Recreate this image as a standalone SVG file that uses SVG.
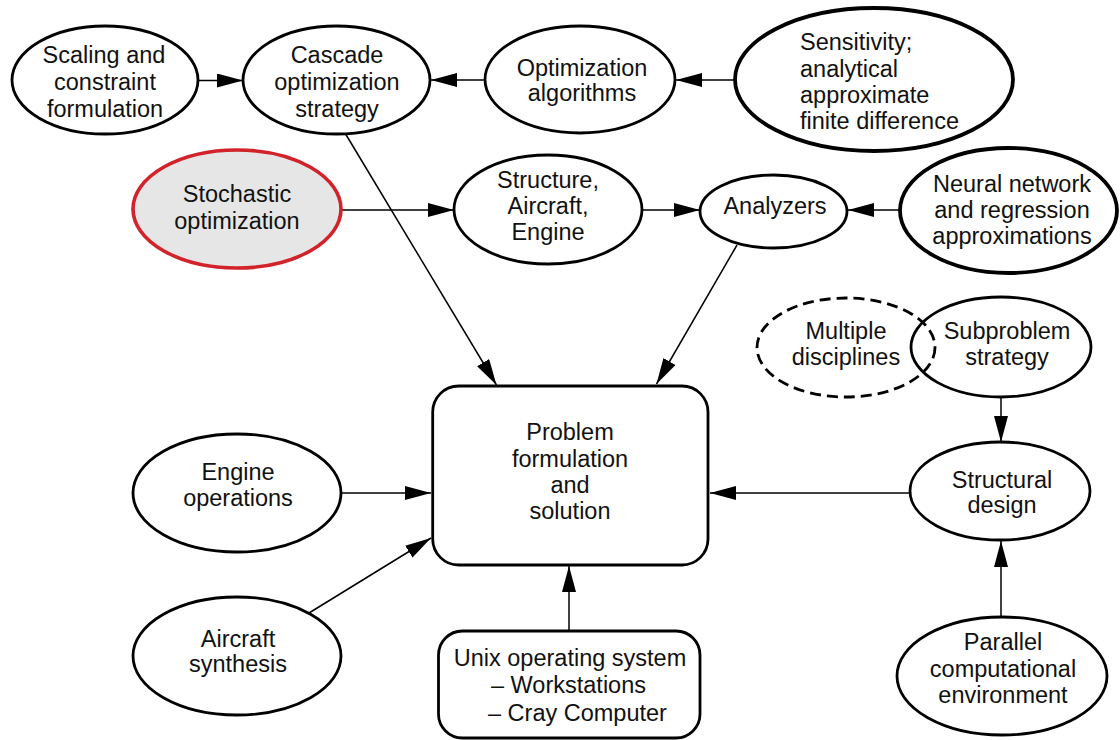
<svg xmlns="http://www.w3.org/2000/svg" width="1120" height="740" viewBox="0 0 1120 740">
<style>
  .n { fill: #fff; stroke: #000; stroke-width: 2.8; }
  .thick { stroke-width: 3.8; }
  .dash { fill: none; stroke-dasharray: 11 6; }
  .open { fill: none; }
  .red { fill: #e6e6e6; stroke: #d2232a; stroke-width: 3.6; }
  .c { stroke: #000; stroke-width: 1.5; fill: none; marker-end: url(#ah); }
  text { font-family: "Liberation Sans", Arial, Helvetica, sans-serif; font-size: 23.5px; fill: #111; text-anchor: middle; }
  text.l { text-anchor: start; }
</style>
<defs>
  <marker id="ah" viewBox="0 0 26 14" refX="26" refY="7" markerWidth="26" markerHeight="14" markerUnits="userSpaceOnUse" orient="auto">
    <path d="M0,0 L26,7 L0,14 z" fill="#000"/>
  </marker>
</defs>
<rect width="1120" height="740" fill="#fff"/>

<g id="connectors">
  <line class="c" x1="198" y1="80.5" x2="243" y2="80.5"/>
  <line class="c" x1="485" y1="80" x2="431" y2="80"/>
  <line class="c" x1="735" y1="80" x2="676" y2="80"/>
  <line class="c" x1="341" y1="210" x2="454" y2="210"/>
  <line class="c" x1="642" y1="210" x2="700" y2="210"/>
  <line class="c" x1="900" y1="210" x2="848" y2="210"/>
  <line class="c" x1="345" y1="133" x2="496.5" y2="385"/>
  <line class="c" x1="737" y1="245" x2="656.5" y2="384"/>
  <line class="c" x1="341" y1="493" x2="431" y2="493"/>
  <line class="c" x1="309" y1="613" x2="431" y2="538"/>
  <line class="c" x1="569" y1="631" x2="569" y2="566"/>
  <line class="c" x1="910" y1="493" x2="710" y2="493"/>
  <line class="c" x1="1001" y1="397" x2="1001" y2="442"/>
  <line class="c" x1="1001" y1="617" x2="1001" y2="541"/>
</g>

<g id="scaling">
  <ellipse class="n" cx="105" cy="80" rx="93" ry="54"/>
  <text x="104" y="63">Scaling and</text>
  <text x="105" y="90">constraint</text>
  <text x="105" y="117">formulation</text>
</g>
<g id="cascade">
  <ellipse class="n" cx="336.5" cy="80" rx="93.5" ry="54"/>
  <text x="337" y="63">Cascade</text>
  <text x="337" y="90">optimization</text>
  <text x="337" y="117">strategy</text>
</g>
<g id="optalg">
  <ellipse class="n" cx="580" cy="79.5" rx="95" ry="53.5"/>
  <text x="582" y="76">Optimization</text>
  <text x="582" y="101">algorithms</text>
</g>
<g id="sensitivity">
  <ellipse class="n thick" cx="874" cy="79.5" rx="139" ry="71.5"/>
  <text class="l" x="800" y="50">Sensitivity;</text>
  <text class="l" x="800" y="77">analytical</text>
  <text class="l" x="800" y="103">approximate</text>
  <text class="l" x="800" y="129">finite difference</text>
</g>
<g id="stochastic">
  <ellipse class="red" cx="237" cy="209" rx="104" ry="59"/>
  <text x="237" y="202">Stochastic</text>
  <text x="237" y="229">optimization</text>
</g>
<g id="structure">
  <ellipse class="n" cx="548" cy="209.5" rx="94" ry="54.5"/>
  <text x="548" y="188">Structure,</text>
  <text x="548" y="214">Aircraft,</text>
  <text x="548" y="240">Engine</text>
</g>
<g id="analyzers">
  <ellipse class="n" cx="773.5" cy="211.5" rx="73.5" ry="36.5"/>
  <text x="775" y="214">Analyzers</text>
</g>
<g id="neural">
  <ellipse class="n thick" cx="1008.5" cy="210.5" rx="108.5" ry="62.5"/>
  <text x="1012" y="192">Neural network</text>
  <text x="1012" y="218">and regression</text>
  <text x="1012" y="244">approximations</text>
</g>
<g id="multiple">
  <ellipse class="n dash" cx="846" cy="347.5" rx="89" ry="49.5"/>
  <text x="846" y="339">Multiple</text>
  <text x="846" y="365">disciplines</text>
</g>
<g id="subproblem">
  <ellipse class="n open" cx="1001" cy="347" rx="90" ry="50"/>
  <text x="1007" y="339">Subproblem</text>
  <text x="1007" y="365">strategy</text>
</g>
<g id="structural">
  <ellipse class="n" cx="1000" cy="491" rx="90" ry="49"/>
  <text x="1002" y="488">Structural</text>
  <text x="1002" y="513">design</text>
</g>
<g id="parallel">
  <ellipse class="n" cx="1002" cy="676" rx="105" ry="59"/>
  <text x="1003" y="650">Parallel</text>
  <text x="1003" y="677">computational</text>
  <text x="1003" y="703">environment</text>
</g>
<g id="engine">
  <ellipse class="n" cx="237" cy="493" rx="104" ry="59"/>
  <text x="238" y="480">Engine</text>
  <text x="238" y="506">operations</text>
</g>
<g id="aircraft">
  <ellipse class="n" cx="237" cy="656" rx="104" ry="59"/>
  <text x="238" y="647">Aircraft</text>
  <text x="238" y="672">synthesis</text>
</g>
<g id="problem">
  <rect class="n" x="432.7" y="386" width="275.3" height="179" rx="26" ry="26"/>
  <text x="570" y="440">Problem</text>
  <text x="570" y="466.5">formulation</text>
  <text x="570" y="493">and</text>
  <text x="570" y="519">solution</text>
</g>
<g id="unix">
  <rect class="n" x="438.5" y="631" width="261.5" height="107" rx="24" ry="24"/>
  <text x="570" y="666">Unix operating system</text>
  <text class="l" x="491" y="693">– Workstations</text>
  <text class="l" x="488" y="721">– Cray Computer</text>
</g>
</svg>
